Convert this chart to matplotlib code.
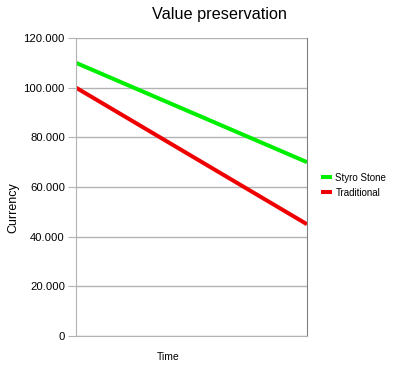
import matplotlib as mpl
import numpy as np
from matplotlib import pyplot as plt
from matplotlib.ticker import FuncFormatter

times = [0, 1]
styro = [110000, 70000]
traditional = [100000, 45000]
yticks = [0, 20000, 40000, 60000, 80000, 100000, 120000]

mpl.rcParams['font.family'] = ['Liberation Sans', 'DejaVu Sans']

fig = plt.figure(figsize=(3.94, 3.75), dpi=100)
ax = fig.add_axes([76/394, 1 - 336/375, (307-76)/394, (336-38)/375])

ax.plot(times, styro, color='#00ee00', lw=2.9, label='Styro Stone', solid_capstyle='butt')
ax.plot(times, traditional, color='#ee0000', lw=2.9, label='Traditional', solid_capstyle='butt')

ax.set_xlim(0, 1)
ax.set_ylim(0, 120000)
ax.set_yticks(yticks)
ax.yaxis.set_major_formatter(FuncFormatter(lambda v, p: f'{int(v):,}'.replace(',', '.')))
ax.set_xticks([])
ax.grid(True, axis='y', color='#b3b3b3', lw=1)
ax.set_axisbelow(True)
for s in ['left', 'bottom', 'right']:
    ax.spines[s].set_color('#b3b3b3')
ax.spines['right'].set_color('#808080')
ax.spines['top'].set_visible(False)
ax.tick_params(axis='y', length=6, color='#b3b3b3', labelsize=8.1, pad=2)

fig.text(219/394, 1 - 15/375, 'Value preservation', ha='center', va='center', fontsize=11.7)
fig.text(13/394, 1 - 208/375, 'Currency', ha='center', va='center', rotation=90, fontsize=9)
fig.text(168/394, 1 - 357/375, 'Time', ha='center', va='center', fontsize=7.5)

fig.legend(loc='upper left', bbox_to_anchor=(312/394, 1 - 164/375), frameon=False,
           fontsize=7, handlelength=1.2, handletextpad=0.3, labelspacing=0.5)

fig.savefig('out.png', dpi=100)
